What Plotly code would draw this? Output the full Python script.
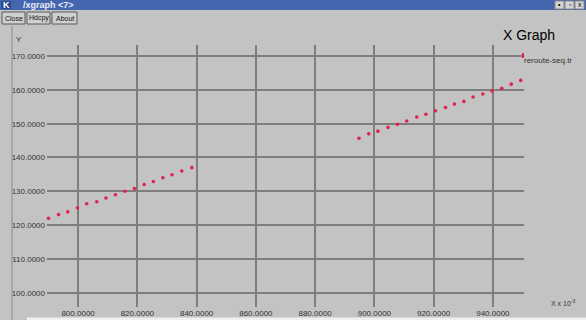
import plotly.graph_objects as go

# ---- data (x in units of 10^-3) ----
series_name = "reroute-seq.tr"
seg1_x = [790.0, 793.4, 796.5, 799.8, 802.9, 806.3, 809.4, 812.6, 815.8, 819.0,
          822.3, 825.4, 828.6, 831.7, 835.0, 838.4]
seg1_y = [122.0, 123.1, 123.9, 125.1, 126.3, 126.9, 128.0, 129.0, 130.0, 130.8,
          132.0, 132.9, 134.0, 134.9, 136.0, 137.0]
seg2_x = [894.8, 898.1, 901.2, 904.6, 907.8, 910.9, 914.3, 917.4, 920.6, 924.0,
          927.0, 930.2, 933.3, 936.6, 939.7, 943.0, 946.2, 949.4]
seg2_y = [145.7, 147.0, 147.8, 148.9, 149.8, 150.8, 152.0, 152.8, 153.8, 154.8,
          155.8, 156.6, 157.9, 158.8, 159.7, 160.5, 161.7, 162.8]
x_ticks = [800, 820, 840, 860, 880, 900, 920, 940]
y_ticks = [100, 110, 120, 130, 140, 150, 160, 170]

W, H = 586, 320
L, R, T, B = 47, 524, 45, 307  # plot area in pixels


def px(x):
    return (x - L) / (R - L)


def py(y):
    return (B - y) / (B - T)


BG = "#c3c3c3"
GRID = "#7e7e7e"
TXT = "#333333"
FONT = "Liberation Sans"


def note(x, y, text, size, color=TXT, xanchor="center"):
    return dict(x=px(x), y=py(y), xref="paper", yref="paper", text=text,
                showarrow=False, xanchor=xanchor, yanchor="middle",
                font=dict(size=size, color=color, family=FONT))


fig = go.Figure()
fig.add_trace(go.Scatter(
    x=seg1_x + seg2_x, y=seg1_y + seg2_y, mode="markers", name=series_name,
    marker=dict(size=3.6, color="#e3214d", line=dict(width=0)),
    showlegend=False, cliponaxis=False, hoverinfo="skip"))

shapes = []
annotations = []

# title bar
shapes.append(dict(type="rect", xref="paper", yref="paper", x0=px(0), x1=px(W),
                   y0=py(0), y1=py(10), fillcolor="#4466ae", line=dict(width=0),
                   layer="above"))
# window buttons at right of title bar
for bx in [555, 565, 575]:
    shapes.append(dict(type="rect", xref="paper", yref="paper", x0=px(bx), x1=px(bx + 9),
                       y0=py(1), y1=py(9), fillcolor="#d4d4d4",
                       line=dict(width=1, color="#888888"), layer="above"))
annotations += [note(559.5, 5, "•", 7, "#000"), note(569.5, 5, "▫", 7, "#000"),
                note(579.5, 5, "x", 7, "#000")]
# K icon and title text
shapes.append(dict(type="rect", xref="paper", yref="paper", x0=px(1), x1=px(11),
                   y0=py(1), y1=py(9), fillcolor="#2b4a8e", line=dict(width=0),
                   layer="above"))
annotations.append(note(6, 5, "<b>K</b>", 9, "#ffffff"))
annotations.append(note(21, 5, "<b>/xgraph &lt;7&gt;</b>", 9, "#e8ecf6", xanchor="left"))

# buttons row
for (x0, x1, label) in [(2, 25, "Close"), (27, 50, "Hdcpy"), (52, 77, "About")]:
    shapes.append(dict(type="rect", xref="paper", yref="paper", x0=px(x0), x1=px(x1),
                       y0=py(12), y1=py(24), fillcolor="#cfcfcf",
                       line=dict(width=1, color="#5a5a5a"), layer="above"))
    annotations.append(note((x0 + x1) / 2, 18, label, 7, "#111"))

# left border and bottom strip
shapes.append(dict(type="line", xref="paper", yref="paper", x0=px(12), x1=px(12),
                   y0=py(26), y1=py(H), line=dict(width=1, color="#8a8a8a"), layer="above"))
shapes.append(dict(type="rect", xref="paper", yref="paper", x0=px(27), x1=px(W),
                   y0=py(317.5), y1=py(H), fillcolor="#f0f0f0", line=dict(width=0),
                   layer="below"))

# legend sample mark
shapes.append(dict(type="line", xref="paper", yref="paper", x0=px(523), x1=px(523),
                   y0=py(53), y1=py(58), line=dict(width=2, color="#e3214d"), layer="above"))

annotations += [
    note(529, 35, "X Graph", 14, "#000"),
    note(14, 39, "Y", 8, xanchor="left"),
    note(522, 60, series_name, 8, xanchor="left"),
    note(563, 303, "X x 10<sup>-3</sup>", 7),
]

fig.update_layout(
    width=W, height=H, autosize=False,
    margin=dict(l=L, r=W - R, t=T, b=H - B, pad=0, autoexpand=False),
    paper_bgcolor=BG, plot_bgcolor=BG,
    font=dict(family=FONT, size=8, color=TXT),
    shapes=shapes, annotations=annotations,
    xaxis=dict(range=[789.5, 950.5], tickvals=x_ticks,
               ticktext=[f"{v:.4f}" for v in x_ticks], automargin=False,
               showgrid=True, gridcolor=GRID, gridwidth=1.5, zeroline=False,
               showline=False, ticks="", ticklabelstandoff=0,
               tickfont=dict(size=8, color=TXT, family=FONT)),
    yaxis=dict(range=[95.77, 173.28], tickvals=y_ticks,
               ticktext=[f"{v:.4f}" for v in y_ticks], automargin=False,
               showgrid=True, gridcolor=GRID, gridwidth=1.5, zeroline=False,
               showline=False, ticks="", ticklabelstandoff=1,
               tickfont=dict(size=8, color=TXT, family=FONT)),
)

fig.write_html("out.html", config={"displayModeBar": False},
               post_script="document.body.style.margin='0px';"
                           "document.body.style.overflow='hidden';")
